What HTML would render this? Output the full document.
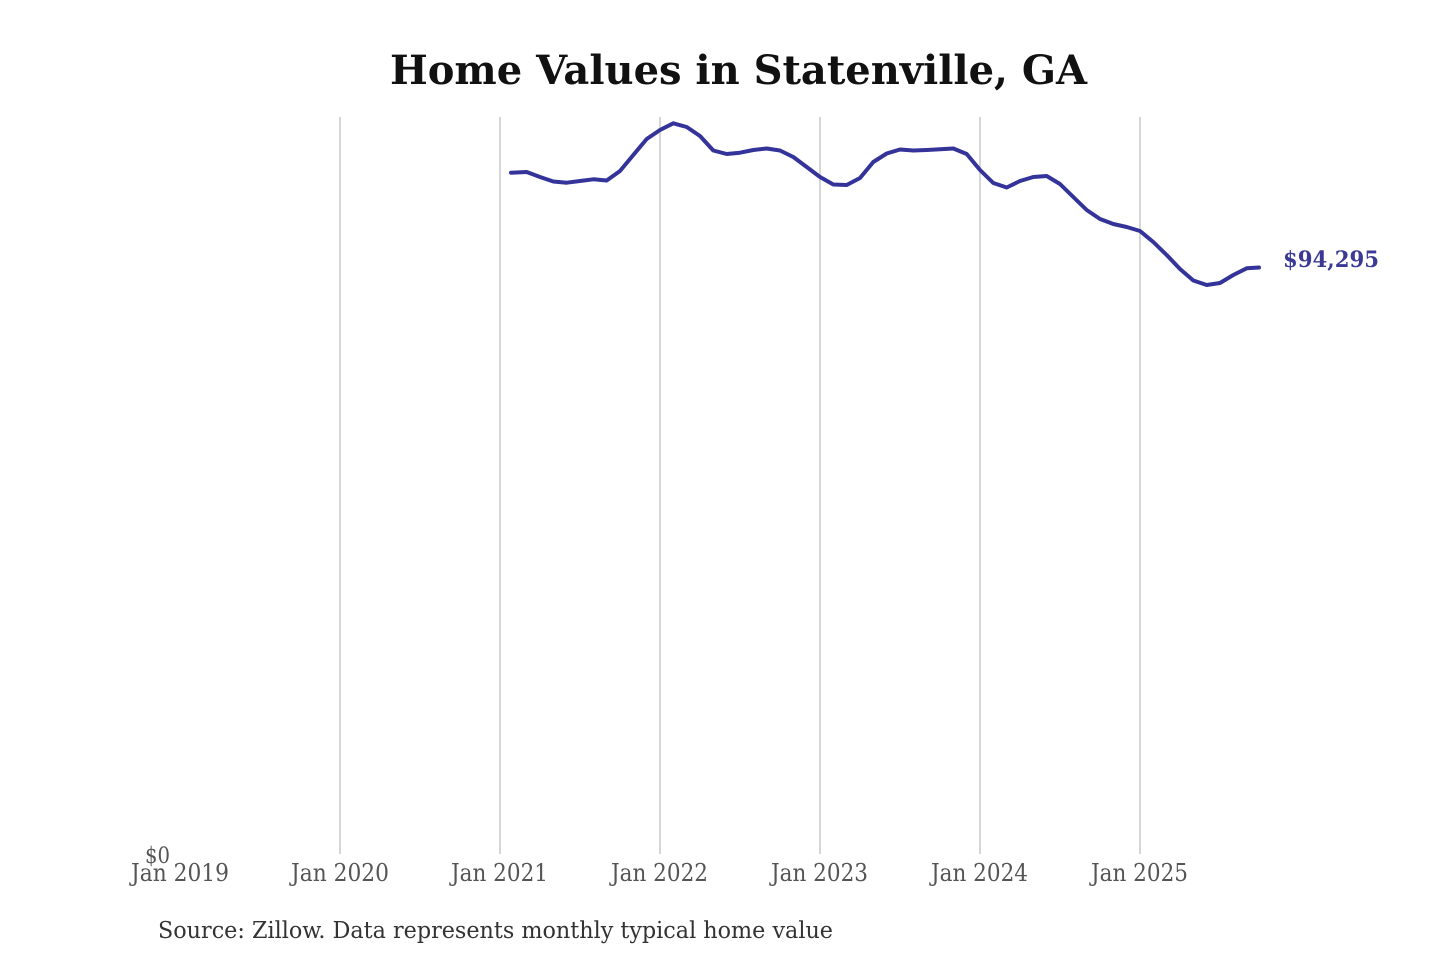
<!DOCTYPE html>
<html>
<head>
<meta charset="utf-8">
<style>
html,body{margin:0;padding:0;background:#fff;}
svg{display:block;}
</style>
</head>
<body>
<svg width="1440" height="960" viewBox="0 0 1440 960" xmlns="http://www.w3.org/2000/svg">
<rect width="1440" height="960" fill="#fff"/>
<text x="390" y="84" font-family="DejaVu Serif, Liberation Serif, serif" font-weight="bold" font-size="40" fill="#111" textLength="697" lengthAdjust="spacingAndGlyphs">Home Values in Statenville, GA</text>
<g stroke="#c8c8c8" stroke-width="1.5">
<line x1="340" y1="117" x2="340" y2="854"/>
<line x1="500" y1="117" x2="500" y2="854"/>
<line x1="660" y1="117" x2="660" y2="854"/>
<line x1="820" y1="117" x2="820" y2="854"/>
<line x1="980" y1="117" x2="980" y2="854"/>
<line x1="1140" y1="117" x2="1140" y2="854"/>
</g>
<polyline fill="none" stroke="#33339a" stroke-width="4" stroke-linejoin="round" stroke-linecap="round" points="
511,172.7 526.7,172 540,177 553.3,181.5 566.7,182.7 580,181 593.3,179.3 606.7,180.5 620,171 633.3,155 646.7,139 660,130 673.3,123.3 686.7,127 700,136 713.3,150.5 726.7,154 740,152.7 753.3,150 766.7,148.5 780,150.5 793.3,157 806.7,167 820,177 833.3,184.5 846.7,185 860,178 873.3,162 886.7,153.5 900,149.5 913.3,150.5 926.7,150 940,149.3 953.3,148.5 966.7,154 980,170 993.3,183 1006.7,187.5 1020,181 1033.3,177 1046.7,176 1060,184 1073.3,197 1086.7,210 1100,219 1113.3,224 1126.7,227 1140,231 1153.3,242 1166.7,255 1180,269 1193.3,280.5 1206.7,285 1220,283 1233.3,275 1246.7,268.3 1259,267.5"/>
<text x="1283" y="267" font-family="DejaVu Serif, Liberation Serif, serif" font-weight="bold" font-size="22" fill="#3a3a96" textLength="96" lengthAdjust="spacingAndGlyphs">$94,295</text>
<g font-family="DejaVu Serif Condensed, DejaVu Serif, Liberation Serif, serif" font-size="24" fill="#555">
<text x="145" y="863" font-size="22" textLength="25" lengthAdjust="spacingAndGlyphs">$0</text>
<text x="131" y="881" textLength="98" lengthAdjust="spacingAndGlyphs">Jan 2019</text>
<text x="291" y="881" textLength="98" lengthAdjust="spacingAndGlyphs">Jan 2020</text>
<text x="451" y="881" textLength="97" lengthAdjust="spacingAndGlyphs">Jan 2021</text>
<text x="611" y="881" textLength="97" lengthAdjust="spacingAndGlyphs">Jan 2022</text>
<text x="771" y="881" textLength="97" lengthAdjust="spacingAndGlyphs">Jan 2023</text>
<text x="931" y="881" textLength="97" lengthAdjust="spacingAndGlyphs">Jan 2024</text>
<text x="1091" y="881" textLength="97" lengthAdjust="spacingAndGlyphs">Jan 2025</text>
</g>
<text x="158" y="938" font-family="DejaVu Serif Condensed, DejaVu Serif, Liberation Serif, serif" font-size="23" fill="#333" textLength="675" lengthAdjust="spacingAndGlyphs">Source: Zillow. Data represents monthly typical home value</text>
</svg>
</body>
</html>
